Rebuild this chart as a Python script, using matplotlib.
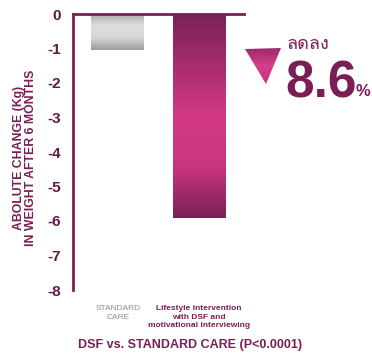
import matplotlib
matplotlib.use("Agg")
import matplotlib.pyplot as plt
import numpy as np
from matplotlib import font_manager
from matplotlib.ft2font import FT2Font
from matplotlib.colors import LinearSegmentedColormap
from matplotlib.patches import Polygon

# data
categories = ["STANDARD\nCARE", "Lifestyle intervention\nwith DSF and\nmotivational interviewing"]
values = [-1.05, -5.9]
yticks = [0, -1, -2, -3, -4, -5, -6, -7, -8]
reduction_label = "ลดลง"
reduction_value = "8.6"

PURPLE = "#7a1f56"
DARK = "#5e1a45"

# find a font that has Thai glyphs
thai_font = None
for f in font_manager.fontManager.ttflist:
    try:
        if 0x0E25 in FT2Font(f.fname).get_charmap():
            thai_font = f.name
            break
    except Exception:
        pass
thai_family = [thai_font, "DejaVu Sans"] if thai_font else ["DejaVu Sans"]

plt.rcParams["font.family"] = ["Liberation Sans", "DejaVu Sans"]

fig = plt.figure(figsize=(3.72, 3.54), dpi=100)
ax = fig.add_axes([73/372, 1-290/354, (244-73)/372, (290-14)/354])

x = np.arange(len(values))
bars = ax.bar(x, values, width=0.65, color="none", edgecolor="none", zorder=2)

grey_cmap = LinearSegmentedColormap.from_list("g", ["#a4a4a6", "#dcdee0", "#d4d6d8", "#9c9c9e"])
pink_cmap = LinearSegmentedColormap.from_list("p", ["#7a2256", "#a82c6e", "#d33a84", "#c83580", "#7a2055"])
for bar, cmap in zip(bars, [grey_cmap, pink_cmap]):
    x0, y0 = bar.get_x(), bar.get_y()
    w, h = bar.get_width(), bar.get_height()
    grad = np.linspace(0, 1, 256).reshape(-1, 1)
    im = ax.imshow(grad, cmap=cmap, aspect="auto", origin="upper",
                   extent=[x0, x0 + w, min(y0, y0 + h), max(y0, y0 + h)], zorder=2)
    im.set_clip_path(bar)

ax.set_xlim(-0.55, 1.55)
ax.set_ylim(-8, 0)
ax.set_yticks(yticks)
ax.set_yticklabels([str(t) if t == 0 else f"-{abs(t)}" for t in yticks])
ax.tick_params(axis="y", length=0, pad=9, labelsize=11, labelcolor=DARK)
ax.set_xticks(x)
ax.set_xticklabels(categories, fontsize=6, linespacing=1.25)
ax.tick_params(axis="x", length=0, pad=11)
ax.get_xticklabels()[0].set_color("#8e8e8e")
ax.get_xticklabels()[1].set_color(PURPLE)
ax.get_xticklabels()[1].set_fontweight("bold")
for lbl in ax.get_yticklabels():
    lbl.set_fontweight("bold")

for s in ["right", "bottom"]:
    ax.spines[s].set_visible(False)
for s in ["left", "top"]:
    ax.spines[s].set_color(PURPLE)
    ax.spines[s].set_linewidth(2)

ax.set_ylabel("ABOLUTE CHANGE (Kg)\nIN WEIGHT AFTER 6 MONTHS", fontsize=8.8,
              fontweight="bold", color=PURPLE, linespacing=1.05)
ax.yaxis.set_label_coords((37 - 73) / 171, 0.478)

fig.text(190/372, 1-345/354, "DSF vs. STANDARD CARE (P<0.0001)", ha="center", va="center",
         fontsize=9, fontweight="bold", color=PURPLE)

# reduction callout
tri = Polygon([[245/372, 1-49/354], [281/372, 1-48/354], [266/372, 1-84/354]],
              closed=True, transform=fig.transFigure, facecolor="none", edgecolor="none")
fig.add_artist(tri)
tri_ax = fig.add_axes([0, 0, 1, 1], facecolor="none")
tri_ax.set_axis_off()
tri_ax.set_xlim(0, 1)
tri_ax.set_ylim(0, 1)
tri_img = tri_ax.imshow(np.linspace(0, 1, 256).reshape(-1, 1),
                        cmap=LinearSegmentedColormap.from_list("t", ["#9a2a6a", "#d8408a", "#c2307c"]),
                        aspect="auto", origin="upper",
                        extent=[245/372, 281/372, 1-84/354, 1-48/354])
tri_img.set_clip_path(tri)

fig.text(287/372, 1-44/354, reduction_label, ha="left", va="center", fontsize=13,
         color=PURPLE, family=thai_family)
fig.text(285/372, 1-97/354, reduction_value, ha="left", va="baseline", fontsize=37,
         color=PURPLE, fontweight="bold")
fig.text(356/372, 1-96/354, "%", ha="left", va="baseline", fontsize=12,
         color=PURPLE, fontweight="bold")

fig.savefig("out.png", dpi=100)
